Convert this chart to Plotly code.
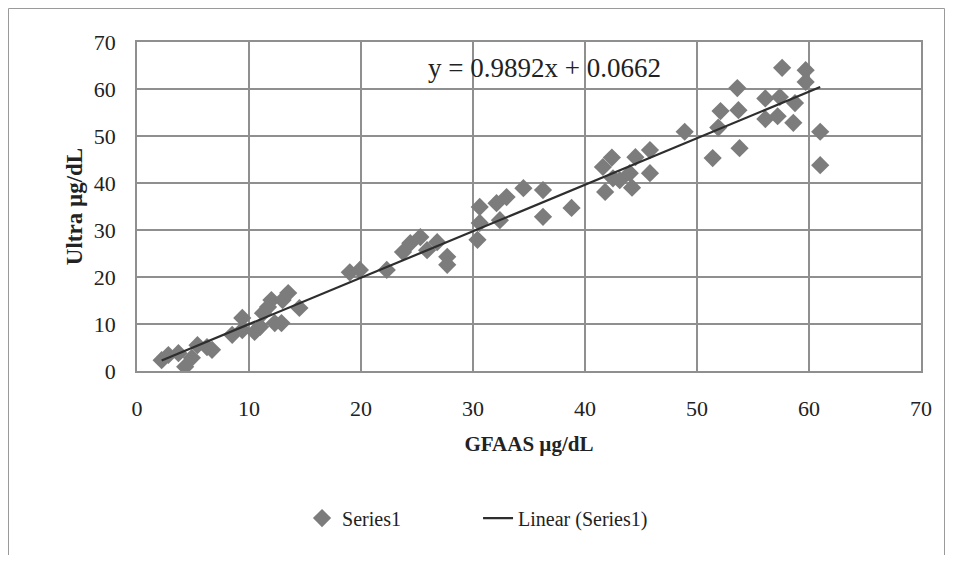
import plotly.graph_objects as go

# GFAAS (x) and Ultra (y) values, µg/dL
gfaas = [2.2, 2.8, 3.7, 4.3, 4.9, 5.4, 6.25, 6.7, 8.5, 9.4, 9.4, 10.5, 11.0, 11.25, 11.7, 12.0,
         12.3, 12.9, 13.0, 13.5, 14.5,
         19.0, 19.9, 22.3, 23.75, 24.4, 25.3, 25.9, 26.8, 27.7, 27.7,
         30.4, 30.6, 30.6, 32.1, 32.4, 33.0, 34.5, 36.25, 36.25, 38.8,
         41.6, 41.8, 42.4, 42.5, 43.1, 44.0, 44.2, 44.5, 45.8, 45.8,
         48.9, 51.4, 51.9, 52.1, 53.6, 53.7, 53.8, 56.1, 56.1, 57.2, 57.4, 57.6,
         58.6, 58.75, 59.7, 59.7, 61.0, 61.0]
ultra = [2.3, 3.4, 3.8, 0.9, 2.8, 5.5, 5.1, 4.5, 7.7, 11.3, 8.7, 8.3, 9.4, 12.3, 13.6, 15.1,
         10.2, 10.2, 15.1, 16.6, 13.4,
         21.0, 21.5, 21.5, 25.3, 27.2, 28.5, 25.7, 27.4, 24.3, 22.6,
         27.9, 31.5, 34.9, 35.7, 32.1, 37.0, 38.9, 38.5, 32.8, 34.7,
         43.4, 38.1, 45.4, 41.0, 40.6, 42.1, 39.0, 45.5, 47.0, 42.1,
         50.9, 45.3, 51.8, 55.3, 60.2, 55.5, 47.4, 58.0, 53.6, 54.2, 58.3, 64.5,
         52.8, 57.0, 64.0, 61.5, 50.9, 43.8]

slope = 0.9892
intercept = 0.0662
trend_x = [min(gfaas), max(gfaas)]
trend_y = [slope * v + intercept for v in trend_x]

x_ticks = [0, 10, 20, 30, 40, 50, 60, 70]
y_ticks = [0, 10, 20, 30, 40, 50, 60, 70]

FONT = "Liberation Serif"
GRID = "#8f8f8f"
FRAME = "#9a9a9a"

W, H = 938, 547
L, R, T, B = 129, 25, 34, 184
PW, PH = W - L - R, H - T - B

fig = go.Figure()
fig.add_trace(go.Scatter(
    x=gfaas, y=ultra, mode="markers", name="Series1", legend="legend",
    marker=dict(symbol="diamond", size=14, color="#7c7c7c", line=dict(width=0)),
))
fig.add_trace(go.Scatter(
    x=trend_x, y=trend_y, mode="lines", name="Linear (Series1)", legend="legend2",
    line=dict(color="#2e2e2e", width=2.2),
))

fig.add_annotation(
    x=0.52, y=0.921, xref="paper", yref="paper", showarrow=False,
    xanchor="center", yanchor="middle",
    text="y = 0.9892x + 0.0662", font=dict(family=FONT, size=27, color="#222"),
)

# outer chart frame (left, top, right edges)
fx0, fx1 = -(L - 0.5) / PW, 1 + (R - 1.5) / PW
fy0, fy1 = -B / PH, 1 + (T - 0.5) / PH
for x0, y0, x1, y1 in [(fx0, fy0, fx0, fy1), (fx0, fy1, fx1, fy1), (fx1, fy1, fx1, fy0)]:
    fig.add_shape(type="line", xref="paper", yref="paper", x0=x0, y0=y0, x1=x1, y1=y1,
                  line=dict(color=FRAME, width=1))

leg_common = dict(orientation="h", y=-0.447, yanchor="middle", xanchor="left",
                  font=dict(family=FONT, size=20, color="#222"), bgcolor="rgba(0,0,0,0)")

fig.update_layout(
    width=W, height=H,
    margin=dict(l=L, r=R, t=T, b=B),
    paper_bgcolor="white", plot_bgcolor="white",
    font=dict(family=FONT, size=22, color="#222"),
    showlegend=True,
    legend=dict(x=0.2105, **leg_common),
    legend2=dict(x=0.435, **leg_common),
    xaxis=dict(range=[0, 70], tickvals=x_ticks, showgrid=True, gridcolor=GRID, gridwidth=1.5,
               zeroline=False, showline=True, linecolor=GRID, linewidth=1.5, mirror=True,
               ticks="", ticklabelstandoff=17,
               title=dict(text="<b>GFAAS µg/dL</b>", font=dict(family=FONT, size=21), standoff=16)),
    yaxis=dict(range=[0, 70], tickvals=y_ticks, showgrid=True, gridcolor=GRID, gridwidth=1.5,
               zeroline=False, showline=True, linecolor=GRID, linewidth=1.5, mirror=True,
               ticks="", ticklabelstandoff=15,
               title=dict(text="<b>Ultra µg/dL</b>", font=dict(family=FONT, size=23), standoff=5)),
)

fig.write_html("out.html")
